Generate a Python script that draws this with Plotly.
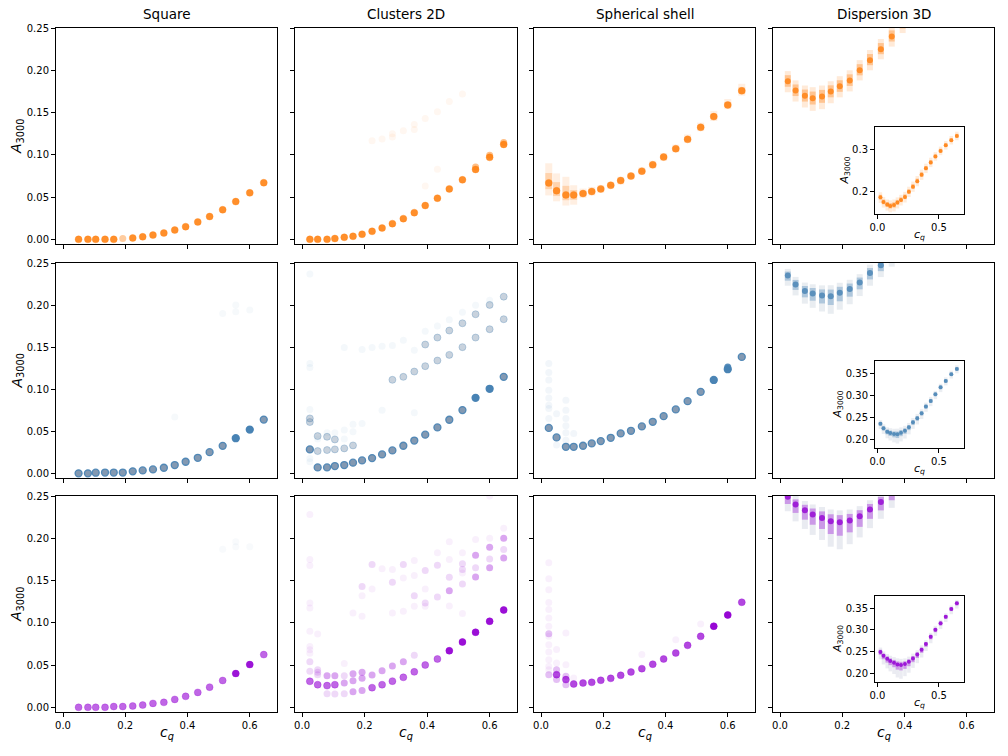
import plotly.graph_objects as go

# ---------------- data ----------------
cq = [0.025, 0.05, 0.08, 0.105, 0.135, 0.163, 0.192, 0.224, 0.256, 0.289,
      0.324, 0.359, 0.394, 0.433, 0.471, 0.513, 0.555, 0.600, 0.645]

panel_titles = ["Square", "Clusters 2D", "Spherical shell", "Dispersion 3D"]
main_xticks = [0.0, 0.2, 0.4, 0.6]
main_yticks = [0.00, 0.05, 0.10, 0.15, 0.20, 0.25]
inset_xticks = [0.0, 0.5]
inset_yticks_top = [0.2, 0.3]
inset_yticks_low = [0.20, 0.25, 0.30, 0.35]

# Row 1 (orange)
sq_o = [None, 0.0, 0.0, 0.0, 0.0, 0.0, None, 0.0016, 0.003, 0.005, 0.0075, 0.011,
        0.015, 0.0206, 0.027, 0.035, 0.0447, 0.055, 0.067]
sq_o_light_x = [0.192]
sq_o_light_y = [0.001]

cl_o = [0.0, 0.0, 0.0, 0.001, 0.0024, 0.0036, 0.006, 0.0095, 0.0134, 0.0186, 0.0245,
        0.0316, 0.040, 0.0487, 0.0597, 0.0704, 0.0827, 0.097, 0.1123]
cl_o_light_x = [0.555, 0.600, 0.645]
cl_o_light_y = [0.0855, 0.0995, 0.1145]
cl_o_faint_x = [0.224, 0.256, 0.289, 0.289, 0.324, 0.359, 0.359, 0.394, 0.433, 0.471,
                0.513, 0.394, 0.433]
cl_o_faint_y = [0.1167, 0.1187, 0.121, 0.125, 0.1285, 0.136, 0.130, 0.143, 0.151, 0.163,
                0.172, 0.063, 0.083]

sh_o = [0.0668, 0.0574, 0.0526, 0.0526, 0.0542, 0.0566, 0.0597, 0.064, 0.0696, 0.0748,
        0.0807, 0.0882, 0.0973, 0.1072, 0.1183, 0.1325, 0.1452, 0.159, 0.1757]
sh_o_hi = [0.090, 0.078, 0.074, 0.064, 0.060, 0.062, 0.064, 0.068, 0.074, 0.079, 0.085,
           0.093, 0.102, 0.112, 0.124, 0.138, 0.152, 0.166, 0.184]
sh_o_lo = [0.052, 0.045, 0.040, 0.041, 0.049, 0.052, 0.055, 0.060, 0.065, 0.071, 0.077,
           0.084, 0.093, 0.103, 0.114, 0.128, 0.140, 0.154, 0.170]

ds_o = [0.187, 0.176, 0.170, 0.167, 0.169, 0.175, 0.181, 0.188, 0.200, 0.212, 0.225,
        0.240, 0.255, 0.269, 0.283, 0.296, 0.309, 0.321, 0.331]
ds_o_up = [0.012, 0.012, 0.012, 0.013, 0.013, 0.012, 0.012, 0.012, 0.012, 0.012, 0.012,
           0.012, 0.011, 0.011, 0.010, 0.010, 0.010, 0.010, 0.010]
ds_o_down = [0.013, 0.013, 0.014, 0.015, 0.015, 0.014, 0.013, 0.013, 0.012, 0.012, 0.012,
             0.012, 0.011, 0.011, 0.010, 0.010, 0.010, 0.010, 0.010]

# Row 2 (blue)
sq_b = [None, 0.0, 0.0, 0.0008, 0.001, 0.001, 0.001, 0.0024, 0.0035, 0.0047, 0.0067,
        0.0099, 0.0138, 0.0185, 0.0252, 0.0327, 0.0418, 0.052, 0.0639]
sq_b_dense_x = [0.555, 0.600]
sq_b_dense_y = [0.0418, 0.052]
sq_b_faint_x = [0.359, 0.513, 0.555, 0.555, 0.600]
sq_b_faint_y = [0.067, 0.190, 0.200, 0.192, 0.194]

cl_b = [0.0285, 0.0071, 0.0071, 0.0087, 0.0099, 0.0127, 0.0154, 0.0182, 0.0225, 0.0273,
        0.0328, 0.039, 0.046, 0.0546, 0.0637, 0.0752, 0.0898, 0.1005, 0.1147]
cl_b_dense_x = [0.555, 0.600]
cl_b_dense_y = [0.0898, 0.1005]
cl_b_light_x = [0.025, 0.025, 0.05, 0.08, 0.105, 0.135, 0.163, 0.05, 0.08, 0.105,
                0.289, 0.324, 0.359, 0.394, 0.433, 0.471, 0.513, 0.555, 0.600, 0.645,
                0.394, 0.433, 0.471, 0.513, 0.555, 0.600, 0.645]
cl_b_light_y = [0.061, 0.0653, 0.0265, 0.0277, 0.0285, 0.0297, 0.0332, 0.0443, 0.0435, 0.0403,
                0.1112, 0.1147, 0.121, 0.1274, 0.1341, 0.1408, 0.150, 0.1614, 0.1713, 0.1832,
                0.1531, 0.1614, 0.1697, 0.1784, 0.1891, 0.2002, 0.210]
cl_b_faint_x = [0.025, 0.025, 0.025, 0.025, 0.025, 0.025, 0.05, 0.08, 0.105, 0.135, 0.135,
                0.163, 0.163, 0.192, 0.135, 0.192, 0.224, 0.256, 0.289, 0.324, 0.359,
                0.394, 0.433, 0.471, 0.513, 0.555, 0.600, 0.256, 0.359]
cl_b_faint_y = [0.237, 0.1305, 0.1258, 0.076, 0.0178, 0.0138, 0.0407, 0.0483, 0.0483, 0.0407,
                0.0514, 0.0494, 0.0585, 0.0593, 0.1495, 0.1472, 0.1495, 0.1511, 0.1519,
                0.1582, 0.1464, 0.1689, 0.1752, 0.1827, 0.1915, 0.1998, 0.2057, 0.075, 0.072]

sh_b = [0.054, 0.0427, 0.0316, 0.0316, 0.0328, 0.0356, 0.0384, 0.0423, 0.0475, 0.0506,
        0.0558, 0.0613, 0.068, 0.076, 0.0858, 0.0969, 0.111, 0.1238, 0.1384]
sh_b_dense_x = [0.555, 0.600, 0.600]
sh_b_dense_y = [0.111, 0.1238, 0.1265]
sh_b_faint_x = [0.025, 0.025, 0.025, 0.025, 0.025, 0.025, 0.025, 0.025, 0.05, 0.05,
                0.08, 0.08, 0.08, 0.08, 0.08, 0.08, 0.105]
sh_b_faint_y = [0.1305, 0.120, 0.111, 0.0988, 0.0897, 0.081, 0.0771, 0.0652, 0.071, 0.0336,
                0.087, 0.0751, 0.0652, 0.0565, 0.0482, 0.0395, 0.0474]

ds_b = [0.235, 0.2245, 0.2167, 0.2137, 0.2114, 0.2106, 0.2145, 0.219, 0.2267, 0.238,
        0.2473, 0.2587, 0.274, 0.287, 0.302, 0.318, 0.3325, 0.348, 0.360]
ds_b_up = [0.008, 0.009, 0.010, 0.011, 0.012, 0.013, 0.012, 0.011, 0.010, 0.010, 0.010,
           0.009, 0.009, 0.009, 0.008, 0.008, 0.008, 0.008, 0.008]
ds_b_down = [0.012, 0.013, 0.015, 0.017, 0.019, 0.021, 0.020, 0.018, 0.016, 0.015, 0.014,
             0.013, 0.012, 0.012, 0.011, 0.011, 0.010, 0.010, 0.010]

# Row 3 (purple)
sq_p = [None, 0.0, 0.0, 0.0, 0.0, 0.001, 0.001, 0.0016, 0.0027, 0.0047, 0.0059, 0.0094,
        0.013, 0.0177, 0.0239, 0.0318, 0.040, 0.0506, 0.0624]
sq_p_dense_x = [0.555, 0.600]
sq_p_dense_y = [0.040, 0.0506]
sq_p_faint_x = [0.513, 0.555, 0.555, 0.600]
sq_p_faint_y = [0.187, 0.196, 0.190, 0.190]

cl_p = [0.0308, 0.0268, 0.0257, 0.0268, None, None, None, 0.0233, 0.0268, 0.031, 0.0355,
        0.042, 0.0501, 0.0572, 0.067, 0.0773, 0.0888, 0.1018, 0.1152]
cl_p_dense_x = [0.471, 0.513, 0.555, 0.600, 0.645]
cl_p_dense_y = [0.067, 0.0773, 0.0888, 0.1018, 0.1152]
cl_p_mid_x = [0.08, 0.105, 0.135, 0.163, 0.192, 0.224, 0.256, 0.289, 0.324, 0.163, 0.192,
              0.163, 0.192, 0.471, 0.555, 0.600, 0.645, 0.555, 0.600, 0.645]
cl_p_mid_y = [0.0375, 0.0375, 0.0288, 0.0316, 0.0343, 0.0383, 0.0434, 0.0489, 0.054, 0.0398,
              0.0414, 0.0185, 0.020, 0.138, 0.1543, 0.165, 0.1768, 0.180, 0.1894, 0.200]
cl_p_light_x = [0.08, 0.105, 0.135, 0.135, 0.359, 0.025, 0.05, 0.05, 0.05, 0.025, 0.433,
                0.513, 0.513, 0.513, 0.555, 0.600, 0.645, 0.394, 0.359, 0.289, 0.224,
                0.192, 0.471, 0.433, 0.394, 0.324]
cl_p_light_y = [0.0162, 0.0158, 0.016, 0.0375, 0.0616, 0.0426, 0.0387, 0.0414, 0.0446, 0.054,
                0.1306, 0.146, 0.163, 0.170, 0.165, 0.1756, 0.1866, 0.1235, 0.132, 0.148,
                0.169, 0.143, 0.154, 0.168, 0.162, 0.169]
cl_p_faint_x = [0.025, 0.025, 0.025, 0.025, 0.025, 0.025, 0.025, 0.025, 0.025, 0.05, 0.600,
                0.600, 0.555, 0.645, 0.513, 0.513, 0.513, 0.471, 0.471, 0.471, 0.433, 0.394,
                0.394, 0.359, 0.359, 0.359, 0.324, 0.324, 0.289, 0.289, 0.256, 0.224, 0.192,
                0.192, 0.163, 0.135]
cl_p_faint_y = [0.228, 0.175, 0.1677, 0.1235, 0.1176, 0.090, 0.072, 0.068, 0.064, 0.0868,
                0.250, 0.200, 0.1985, 0.212, 0.183, 0.159, 0.111, 0.175, 0.196, 0.120, 0.183,
                0.140, 0.1196, 0.1196, 0.1736, 0.156, 0.153, 0.1137, 0.163, 0.1117, 0.164,
                0.140, 0.132, 0.1077, 0.1117, 0.052]

sh_p = [None, 0.0387, 0.0328, 0.0276, 0.0288, 0.0296, 0.032, 0.0343, 0.0379, 0.0418,
        0.0458, 0.051, 0.0572, 0.0643, 0.0734, 0.084, 0.096, 0.1093, 0.1243]
sh_p_dense_x = [0.555, 0.600]
sh_p_dense_y = [0.096, 0.1093]
sh_p_light_x = [0.025, 0.025, 0.05, 0.05, 0.08, 0.08]
sh_p_light_y = [0.0387, 0.087, 0.0446, 0.0328, 0.0367, 0.0268]
sh_p_faint_x = [0.025, 0.025, 0.025, 0.025, 0.025, 0.025, 0.025, 0.025, 0.025, 0.025,
                0.025, 0.025, 0.025, 0.05, 0.05, 0.08, 0.08, 0.324, 0.433, 0.513, 0.105]
sh_p_faint_y = [0.171, 0.152, 0.139, 0.124, 0.1156, 0.1057, 0.0959, 0.084, 0.074, 0.0655,
                0.0564, 0.0485, 0.0446, 0.0683, 0.0525, 0.088, 0.0505, 0.0624, 0.0801, 0.0987,
                0.0347]

ds_p = [0.249, 0.240, 0.233, 0.228, 0.224, 0.220, 0.219, 0.221, 0.226, 0.234, 0.243,
        0.254, 0.267, 0.284, 0.300, 0.315, 0.330, 0.348, 0.361]
ds_p_up = [0.010, 0.010, 0.011, 0.012, 0.013, 0.014, 0.014, 0.013, 0.012, 0.011, 0.010,
           0.010, 0.009, 0.009, 0.009, 0.008, 0.008, 0.008, 0.008]
ds_p_down = [0.017, 0.020, 0.022, 0.024, 0.026, 0.030, 0.032, 0.028, 0.025, 0.022, 0.020,
             0.018, 0.016, 0.015, 0.014, 0.013, 0.012, 0.012, 0.012]

# ---------------- styling / layout ----------------
ORANGE = (255, 127, 14)
BLUE = (70, 130, 180)
BLUEGREY = (118, 142, 170)
PURPLE = (148, 0, 211)
TAILGREY = (120, 130, 170)

W, H = 1008, 756
col_px = [(56, 277), (295, 517), (534, 755), (773, 994)]
row_px = [(28, 244), (263, 478), (496, 712)]
inset_x_px = (875, 964)
inset_y_px = [(127, 214), (361, 448), (596, 682)]
FONT = "DejaVu Sans"


def rgba(c, a):
    return f"rgba({c[0]},{c[1]},{c[2]},{a})"


def ax_id(k):
    return ("x" if k == 1 else f"x{k}"), ("y" if k == 1 else f"y{k}")


fig = go.Figure()


def add_pts(k, x, y, color, alpha, size=7, edge=None, ew=0):
    xa, ya = ax_id(k)
    fig.add_trace(go.Scatter(
        x=x, y=y, mode="markers", xaxis=xa, yaxis=ya, showlegend=False,
        hoverinfo="skip", cliponaxis=True,
        marker=dict(size=size, color=rgba(color, alpha),
                    line=dict(width=ew, color=edge if edge else "rgba(0,0,0,0)"))))


def add_band(k, x, y, up, down, color, alpha, thick):
    xa, ya = ax_id(k)
    fig.add_trace(go.Scatter(
        x=x, y=y, mode="markers", xaxis=xa, yaxis=ya, showlegend=False,
        hoverinfo="skip", cliponaxis=True,
        marker=dict(size=1, color="rgba(0,0,0,0)"),
        error_y=dict(type="data", symmetric=False, array=up, arrayminus=down,
                     color=rgba(color, alpha), thickness=thick, width=0)))


def k_of(r, c):
    return r * 4 + c + 1


# ---- Row 1: orange ----
add_pts(k_of(0, 0), cq, sq_o, ORANGE, 0.88, edge=rgba(ORANGE, 0.3), ew=1)
add_pts(k_of(0, 0), sq_o_light_x, sq_o_light_y, ORANGE, 0.4)

add_pts(k_of(0, 1), cl_o_faint_x, cl_o_faint_y, ORANGE, 0.06)
add_pts(k_of(0, 1), cl_o_light_x, cl_o_light_y, ORANGE, 0.5)
add_pts(k_of(0, 1), cq, cl_o, ORANGE, 0.88, edge=rgba(ORANGE, 0.3), ew=1)

up = [h - m for h, m in zip(sh_o_hi, sh_o)]
dn = [m - l for m, l in zip(sh_o, sh_o_lo)]
add_band(k_of(0, 2), cq, sh_o, up, dn, ORANGE, 0.12, 7)
add_band(k_of(0, 2), cq, sh_o, [u * 0.5 for u in up], [d * 0.5 for d in dn], ORANGE, 0.25, 7)
add_pts(k_of(0, 2), cq, sh_o, ORANGE, 0.85, edge=rgba(ORANGE, 0.3), ew=1)

# ---- Row 2: blue ----
add_pts(k_of(1, 0), sq_b_faint_x, sq_b_faint_y, BLUE, 0.05)
add_pts(k_of(1, 0), cq, sq_b, BLUEGREY, 0.9, edge=rgba(BLUE, 0.9), ew=1.3)
add_pts(k_of(1, 0), sq_b_dense_x, sq_b_dense_y, BLUE, 0.95)

add_pts(k_of(1, 1), cl_b_faint_x, cl_b_faint_y, BLUE, 0.06)
add_pts(k_of(1, 1), cl_b_light_x, cl_b_light_y, BLUEGREY, 0.4, edge=rgba(BLUE, 0.3), ew=1)
add_pts(k_of(1, 1), cq, cl_b, BLUEGREY, 0.9, edge=rgba(BLUE, 0.9), ew=1.3)
add_pts(k_of(1, 1), cl_b_dense_x, cl_b_dense_y, BLUE, 0.95)

add_pts(k_of(1, 2), sh_b_faint_x, sh_b_faint_y, BLUE, 0.07)
add_pts(k_of(1, 2), cq, sh_b, BLUEGREY, 0.9, edge=rgba(BLUE, 0.9), ew=1.3)
add_pts(k_of(1, 2), sh_b_dense_x, sh_b_dense_y, BLUE, 0.9)

# ---- Row 3: purple ----
add_pts(k_of(2, 0), sq_p_faint_x, sq_p_faint_y, BLUE, 0.04)
add_pts(k_of(2, 0), cq, sq_p, PURPLE, 0.6, edge=rgba(PURPLE, 0.25), ew=1)
add_pts(k_of(2, 0), sq_p_dense_x, sq_p_dense_y, PURPLE, 0.8)

add_pts(k_of(2, 1), cl_p_faint_x, cl_p_faint_y, PURPLE, 0.06)
add_pts(k_of(2, 1), cl_p_light_x, cl_p_light_y, PURPLE, 0.15)
add_pts(k_of(2, 1), cl_p_mid_x, cl_p_mid_y, PURPLE, 0.35)
add_pts(k_of(2, 1), cq, cl_p, PURPLE, 0.6, edge=rgba(PURPLE, 0.3), ew=1)
add_pts(k_of(2, 1), cl_p_dense_x, cl_p_dense_y, PURPLE, 0.85)

add_pts(k_of(2, 2), sh_p_faint_x, sh_p_faint_y, PURPLE, 0.06)
add_pts(k_of(2, 2), sh_p_light_x, sh_p_light_y, PURPLE, 0.25)
add_pts(k_of(2, 2), cq, sh_p, PURPLE, 0.72, edge=rgba(PURPLE, 0.3), ew=1)
add_pts(k_of(2, 2), sh_p_dense_x, sh_p_dense_y, PURPLE, 0.9)

# ---- Dispersion 3D panels + insets ----
disp = [
    (ds_o, ds_o_up, ds_o_down, ORANGE, ORANGE),
    (ds_b, ds_b_up, ds_b_down, BLUE, BLUEGREY),
    (ds_p, ds_p_up, ds_p_down, PURPLE, TAILGREY),
]
for r, (ys, u, d, col, tail) in enumerate(disp):
    k = k_of(r, 3)
    add_band(k, cq, ys, u, d, tail, 0.16, 6)
    add_band(k, cq, ys, [v * 0.6 for v in u], [v * 0.5 for v in d], col, 0.35, 6)
    add_pts(k, cq, ys, col, 0.8, size=6)
    ki = 13 + r
    add_band(ki, cq, ys, u, d, tail, 0.15, 3.5)
    add_band(ki, cq, ys, [v * 0.5 for v in u], [v * 0.4 for v in d], col, 0.35, 3.5)
    add_pts(ki, cq, ys, col, 0.85, size=4)

# ---------------- axes ----------------
axis_common = dict(showline=True, mirror=True, linecolor="black", linewidth=1,
                   ticks="outside", ticklen=4, tickwidth=1, tickcolor="black",
                   showgrid=False, zeroline=False, automargin=False,
                   tickfont=dict(family=FONT, size=10, color="black"))
layout = dict(
    width=W, height=H, margin=dict(l=0, r=0, t=0, b=0, pad=0, autoexpand=False),
    paper_bgcolor="white", plot_bgcolor="white", showlegend=False,
    font=dict(family=FONT, color="black"),
)
for r in range(3):
    for c in range(4):
        k = k_of(r, c)
        xa, ya = ax_id(k)
        xkey = "xaxis" if k == 1 else f"xaxis{k}"
        ykey = "yaxis" if k == 1 else f"yaxis{k}"
        layout[xkey] = dict(axis_common, domain=[col_px[c][0] / W, col_px[c][1] / W],
                            anchor=ya, range=[-0.0225, 0.6875], tickvals=main_xticks,
                            tickformat=".1f", showticklabels=(r == 2))
        layout[ykey] = dict(axis_common,
                            domain=[1 - row_px[r][1] / H, 1 - row_px[r][0] / H],
                            anchor=xa, range=[-0.0055, 0.25], tickvals=main_yticks,
                            tickformat=".2f", showticklabels=(c == 0))
for r in range(3):
    k = 13 + r
    xa, ya = ax_id(k)
    if r == 0:
        yr, yt, yf = [0.148, 0.352], inset_yticks_top, ".1f"
    else:
        yr, yt, yf = [0.1795, 0.378], inset_yticks_low, ".2f"
    layout[f"xaxis{k}"] = dict(axis_common, domain=[inset_x_px[0] / W, inset_x_px[1] / W],
                               anchor=ya, range=[-0.019, 0.703], tickvals=inset_xticks,
                               tickformat=".1f")
    layout[f"yaxis{k}"] = dict(axis_common,
                               domain=[1 - inset_y_px[r][1] / H, 1 - inset_y_px[r][0] / H],
                               anchor=xa, range=yr, tickvals=yt, tickformat=yf)

fig.update_layout(**layout)

# ---------------- labels ----------------
ann = []
for c, t in enumerate(panel_titles):
    ann.append(dict(text=t, x=(col_px[c][0] + col_px[c][1]) / 2 / W, y=1 - 14 / H,
                    xref="paper", yref="paper", showarrow=False, xanchor="center",
                    yanchor="middle", font=dict(family=FONT, size=13.5, color="black")))
for r in range(3):
    ann.append(dict(text="<i>A</i><sub>3000</sub>", x=17 / W,
                    y=1 - (row_px[r][0] + row_px[r][1]) / 2 / H, xref="paper", yref="paper",
                    showarrow=False, textangle=-90, xanchor="center", yanchor="middle",
                    font=dict(family=FONT, size=14, color="black")))
for c in range(4):
    ann.append(dict(text="<i>c<sub>q</sub></i>", x=(col_px[c][0] + col_px[c][1]) / 2 / W,
                    y=1 - 733 / H, xref="paper", yref="paper", showarrow=False,
                    xanchor="center", yanchor="middle",
                    font=dict(family=FONT, size=14, color="black")))
inset_ylab_x = [845, 838, 838]
for r in range(3):
    ann.append(dict(text="<i>A</i><sub>3000</sub>", x=inset_ylab_x[r] / W,
                    y=1 - (inset_y_px[r][0] + inset_y_px[r][1]) / 2 / H, xref="paper",
                    yref="paper", showarrow=False, textangle=-90, xanchor="center",
                    yanchor="middle", font=dict(family=FONT, size=11, color="black")))
    ann.append(dict(text="<i>c<sub>q</sub></i>", x=(inset_x_px[0] + inset_x_px[1]) / 2 / W,
                    y=1 - (inset_y_px[r][1] + 21) / H, xref="paper", yref="paper",
                    showarrow=False, xanchor="center", yanchor="middle",
                    font=dict(family=FONT, size=11, color="black")))
fig.update_layout(annotations=ann)

fig.write_html("out.html")
